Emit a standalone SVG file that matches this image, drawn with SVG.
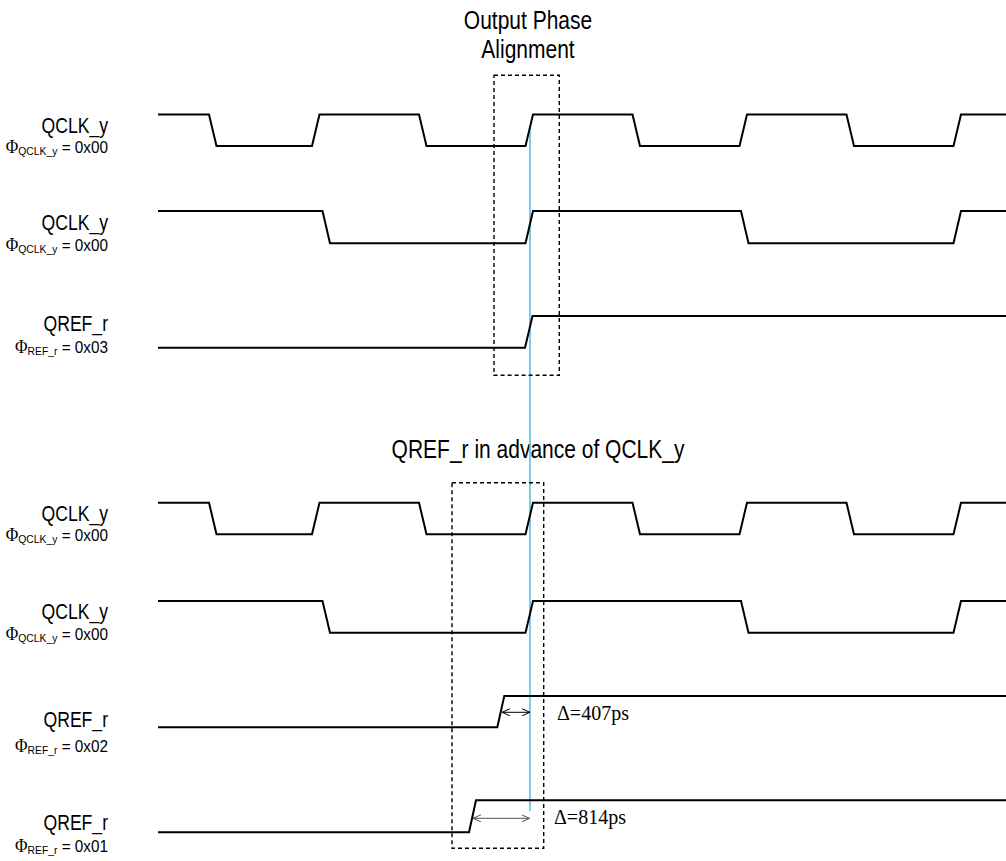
<svg xmlns="http://www.w3.org/2000/svg" width="1006" height="861" viewBox="0 0 1006 861">
<style>
.bg{fill:#ffffff}
.wave{fill:none;stroke:#000;stroke-width:2;stroke-linejoin:miter}
.box{fill:none;stroke:#000;stroke-width:1.4;stroke-dasharray:4 3}
.ref{stroke:#5bbfea;stroke-width:1.6}
.sans{font-family:"Liberation Sans",Arial,sans-serif;fill:#000}
.serif{font-family:"Liberation Serif","Times New Roman",serif;fill:#000}
.title{font-size:25px}
.lbl{font-size:22px}
.sub{font-size:17px}
.subs{font-size:11.5px}
.phi{font-family:"Liberation Serif","Times New Roman",serif;font-size:19px}
.delta{font-size:20px}
.arr{fill:none;stroke-width:1}
</style>
<defs>
<marker id="ah" viewBox="0 0 8 8" refX="8" refY="4" markerWidth="8" markerHeight="8" markerUnits="userSpaceOnUse" orient="auto-start-reverse">
<path d="M0,0.5 L8,4 L0,7.5" fill="none" stroke="#000" stroke-width="1"/>
</marker>
<marker id="ahg" viewBox="0 0 8 8" refX="8" refY="4" markerWidth="8" markerHeight="8" markerUnits="userSpaceOnUse" orient="auto-start-reverse">
<path d="M0,0.5 L8,4 L0,7.5" fill="none" stroke="#555" stroke-width="1"/>
</marker>
</defs>
<rect class="bg" x="0" y="0" width="1006" height="861"/>

<g id="titles" class="sans title" text-anchor="middle">
<text transform="translate(528,29) scale(0.84,1)">Output Phase</text>
<text transform="translate(528,58) scale(0.84,1)">Alignment</text>
<text transform="translate(538,458) scale(0.84,1)">QREF_r in advance of QCLK_y</text>
</g>

<g id="connectors">
<line class="ref" x1="530" y1="128" x2="530" y2="811"/>
<line class="arr" stroke="#000" x1="502" y1="712.3" x2="530" y2="712.3" marker-start="url(#ah)" marker-end="url(#ah)"/>
<line class="arr" stroke="#555" x1="473" y1="818.3" x2="529.5" y2="818.3" marker-start="url(#ahg)" marker-end="url(#ahg)"/>
</g>

<g id="boxes">
<rect class="box" x="494" y="75.3" width="65.3" height="300"/>
<rect class="box" x="452" y="482.7" width="91.7" height="365.6"/>
</g>

<g id="row1">
<path class="wave" d="M158,114.5 H209 L216.5,146 H312 L319.5,114.5 H419 L426.5,146 H525.5 L533,114.5 H632.5 L640,146 H739.5 L747,114.5 H846.5 L854,146 H953.5 L961,114.5 H1006"/>
<text class="sans lbl" transform="translate(108,132.5) scale(0.8,1)" text-anchor="end">QCLK_y</text>
<text class="sans sub" transform="translate(108,153) scale(0.9,1)" text-anchor="end"><tspan class="phi">Φ</tspan><tspan class="subs" dy="2">QCLK_y</tspan><tspan dy="-2"> = 0x00</tspan></text>
</g>

<g id="row2">
<path class="wave" d="M158,211 H322.5 L330,243.3 H525.5 L533,211 H741 L748.5,243.3 H953.5 L961,211 H1006"/>
<text class="sans lbl" transform="translate(108,230) scale(0.8,1)" text-anchor="end">QCLK_y</text>
<text class="sans sub" transform="translate(108,251) scale(0.9,1)" text-anchor="end"><tspan class="phi">Φ</tspan><tspan class="subs" dy="2">QCLK_y</tspan><tspan dy="-2"> = 0x00</tspan></text>
</g>

<g id="row3">
<path class="wave" d="M158,347.7 H525 L532.5,316 H1006"/>
<text class="sans lbl" transform="translate(108,331) scale(0.8,1)" text-anchor="end">QREF_r</text>
<text class="sans sub" transform="translate(108,353) scale(0.9,1)" text-anchor="end"><tspan class="phi">Φ</tspan><tspan class="subs" dy="2">REF_r</tspan><tspan dy="-2"> = 0x03</tspan></text>
</g>

<g id="row4">
<path class="wave" d="M158,502.7 H209 L216.5,534.3 H312 L319.5,502.7 H419 L426.5,534.3 H525.5 L533,502.7 H632.5 L640,534.3 H739.5 L747,502.7 H846.5 L854,534.3 H953.5 L961,502.7 H1006"/>
<text class="sans lbl" transform="translate(108,520.5) scale(0.8,1)" text-anchor="end">QCLK_y</text>
<text class="sans sub" transform="translate(108,541) scale(0.9,1)" text-anchor="end"><tspan class="phi">Φ</tspan><tspan class="subs" dy="2">QCLK_y</tspan><tspan dy="-2"> = 0x00</tspan></text>
</g>

<g id="row5">
<path class="wave" d="M158,601 H322.5 L330,632.7 H525.5 L533,601 H741 L748.5,632.7 H953.5 L961,601 H1006"/>
<text class="sans lbl" transform="translate(108,619) scale(0.8,1)" text-anchor="end">QCLK_y</text>
<text class="sans sub" transform="translate(108,640) scale(0.9,1)" text-anchor="end"><tspan class="phi">Φ</tspan><tspan class="subs" dy="2">QCLK_y</tspan><tspan dy="-2"> = 0x00</tspan></text>
</g>

<g id="row6">
<path class="wave" d="M158,727.3 H497.3 L504.3,696 H1006"/>
<text class="sans lbl" transform="translate(108,727) scale(0.8,1)" text-anchor="end">QREF_r</text>
<text class="sans sub" transform="translate(108,752) scale(0.9,1)" text-anchor="end"><tspan class="phi">Φ</tspan><tspan class="subs" dy="2">REF_r</tspan><tspan dy="-2"> = 0x02</tspan></text>
<text class="serif delta" x="557" y="720">Δ=407ps</text>
</g>

<g id="row7">
<path class="wave" d="M158,832.3 H469 L476,800.3 H1006"/>
<text class="sans lbl" transform="translate(108,830) scale(0.8,1)" text-anchor="end">QREF_r</text>
<text class="sans sub" transform="translate(108,852) scale(0.9,1)" text-anchor="end"><tspan class="phi">Φ</tspan><tspan class="subs" dy="2">REF_r</tspan><tspan dy="-2"> = 0x01</tspan></text>
<text class="serif delta" x="554" y="824">Δ=814ps</text>
</g>
</svg>
